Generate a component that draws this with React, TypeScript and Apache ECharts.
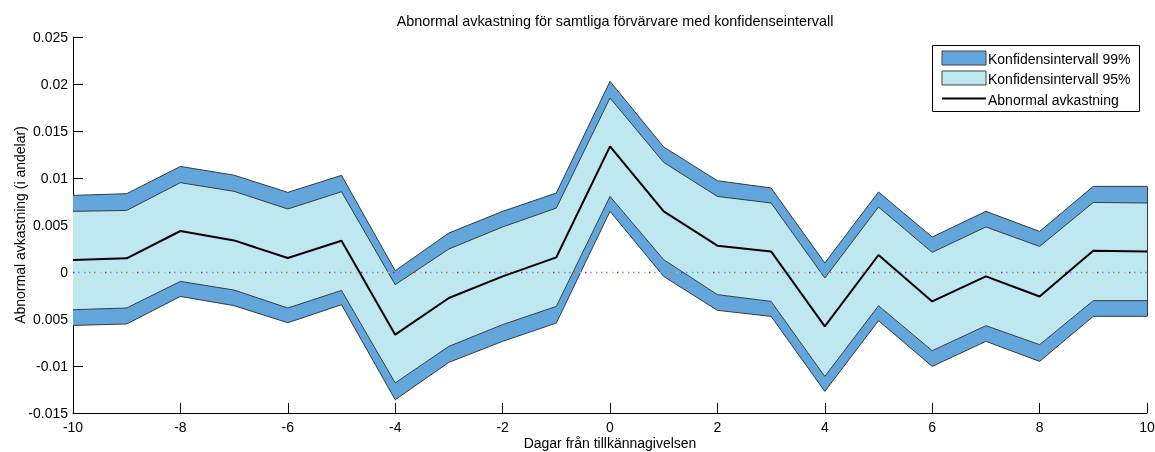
import React, { useEffect, useRef } from "react";
import * as echarts from "echarts";

const days = [-10, -9, -8, -7, -6, -5, -4, -3, -2, -1, 0, 1, 2, 3, 4, 5, 6, 7, 8, 9, 10];
const meanAR = [0.00128, 0.00145, 0.00436, 0.00336, 0.00149, 0.00333, -0.00667, -0.00277, -0.00047, 0.00156, 0.01336, 0.00645, 0.0028, 0.00219, -0.00579, 0.00181, -0.00313, -0.00047, -0.0026, 0.00227, 0.00219];
const upper95 = [0.00645, 0.00655, 0.0095, 0.00858, 0.0067, 0.00854, -0.00135, 0.00245, 0.00479, 0.0068, 0.01851, 0.01166, 0.00804, 0.00734, -0.00064, 0.00691, 0.00209, 0.00479, 0.00272, 0.0074, 0.00734];
const upper99 = [0.00815, 0.00833, 0.01123, 0.0103, 0.00847, 0.01028, 0.00014, 0.00415, 0.00645, 0.0084, 0.02028, 0.0133, 0.00971, 0.00894, 0.00096, 0.00851, 0.00372, 0.00645, 0.00432, 0.00911, 0.00911];
const lower95 = [-0.00401, -0.00383, -0.001, -0.00192, -0.00383, -0.00196, -0.0118, -0.00791, -0.0056, -0.00366, 0.00804, 0.00131, -0.00241, -0.00313, -0.01111, -0.00359, -0.00837, -0.00571, -0.00773, -0.00305, -0.00305];
const lower99 = [-0.00568, -0.00553, -0.0026, -0.00358, -0.0054, -0.00348, -0.01359, -0.00961, -0.00738, -0.00543, 0.00645, -0.00047, -0.00408, -0.00472, -0.0127, -0.00518, -0.01004, -0.00738, -0.00951, -0.00472, -0.00472];
const yTickLabels = ["-0.015", "-0.01", "0.005", "0", "0.005", "0.01", "0.015", "0.02", "0.025"];

const titleText = "Abnormal avkastning för samtliga förvärvare med konfidenseintervall";
const xName = "Dagar från tillkännagivelsen";
const yName = "Abnormal avkastning (i andelar)";
const legendNames = ["Konfidensintervall 99%", "Konfidensintervall 95%", "Abnormal avkastning"];

const DARK = "#62A6DB";
const LIGHT = "#BFE7F0";
const EDGE = "#333b44";
const FONT = "'Liberation Sans', Arial, sans-serif";
const FS = 14;
const dotColors = ["#3344ff", "#cc55ee", "#22cccc", "#55aa55", "#ee5555", "#cccc33"];

export default function App() {
  const ref = useRef<HTMLDivElement>(null);
  useEffect(() => {
    if (!ref.current) return;
    const chart = echarts.init(ref.current, undefined, { renderer: "svg" });
    const d1 = days.map((_, i) => lower95[i] - lower99[i]);
    const d2 = days.map((_, i) => upper95[i] - lower95[i]);
    const d3 = days.map((_, i) => upper99[i] - upper95[i]);
    const edgeLine = { color: EDGE, width: 1 };
    const last = days.length - 1;
    const zeroLines = dotColors.map((c, k) => ({
      yAxis: 0,
      lineStyle: { color: c, width: 1.3, type: [1.5, 30.5], dashOffset: -k * 5.33 },
    }));
    const stackCommon = { type: "line", stack: "ci", stackStrategy: "all", symbol: "none", lineStyle: edgeLine };
    chart.setOption({
      animation: false,
      grid: { left: 73, right: 8, top: 37, bottom: 39, containLabel: false, outerBoundsMode: "none" },
      xAxis: {
        type: "category",
        data: days.map(String),
        boundaryGap: false,
        name: xName,
        nameLocation: "middle",
        nameGap: 23,
        nameMoveOverlap: false,
        nameTextStyle: { color: "#000", fontSize: FS, fontFamily: FONT },
        axisLine: { show: true, onZero: false, lineStyle: { color: "#000", width: 1 } },
        axisTick: { show: true, inside: true, length: 10, interval: 1, lineStyle: { color: "#000" } },
        axisLabel: { color: "#000", fontSize: FS, fontFamily: FONT, margin: 7, interval: 1 },
        splitLine: { show: false },
      },
      yAxis: {
        type: "value",
        min: -0.015,
        max: 0.025,
        interval: 0.005,
        name: yName,
        nameLocation: "middle",
        nameRotate: 90,
        nameGap: 46,
        nameMoveOverlap: false,
        nameTextStyle: { color: "#000", fontSize: FS, fontFamily: FONT },
        axisLine: { show: true, onZero: false, lineStyle: { color: "#000", width: 1 } },
        axisTick: { show: true, inside: true, length: 10, lineStyle: { color: "#000" } },
        axisLabel: {
          color: "#000",
          fontSize: FS,
          fontFamily: FONT,
          margin: 5,
          formatter: (v: number) => yTickLabels[Math.round((v + 0.015) / 0.005)],
        },
        splitLine: { show: false },
      },
      series: [
        { ...stackCommon, name: "base", data: lower99 },
        { ...stackCommon, name: legendNames[0], data: d1, areaStyle: { color: DARK, opacity: 1 } },
        { ...stackCommon, name: legendNames[1], data: d2, areaStyle: { color: LIGHT, opacity: 1 } },
        { ...stackCommon, name: legendNames[0] + " ", data: d3, areaStyle: { color: DARK, opacity: 1 } },
        {
          type: "line",
          name: legendNames[2],
          data: meanAR,
          symbol: "none",
          lineStyle: { color: "#000", width: 2 },
          z: 5,
          markLine: {
            silent: true,
            symbol: "none",
            label: { show: false },
            data: [
              ...zeroLines,
              [
                { coord: [last, lower99[last]], lineStyle: { color: EDGE, width: 1, type: "solid" } },
                { coord: [last, upper99[last]] },
              ],
            ],
          },
        },
      ],
      graphic: [
        {
          type: "text",
          x: 615,
          y: 20.5,
          style: {
            text: titleText,
            fill: "#000",
            font: `14.4px ${FONT}`,
            align: "center",
            verticalAlign: "middle",
          },
        },
        {
          type: "rect",
          shape: { x: 932.5, y: 45.5, width: 207, height: 66 },
          style: { fill: "#fff", stroke: "#000", lineWidth: 1 },
          z: 10,
        },
        {
          type: "rect",
          shape: { x: 942, y: 51, width: 44, height: 14 },
          style: { fill: DARK, stroke: "#444", lineWidth: 1 },
          z: 11,
        },
        {
          type: "rect",
          shape: { x: 942, y: 71, width: 44, height: 14 },
          style: { fill: LIGHT, stroke: "#444", lineWidth: 1 },
          z: 11,
        },
        {
          type: "line",
          shape: { x1: 942, y1: 98.5, x2: 986, y2: 98.5 },
          style: { stroke: "#000", lineWidth: 2 },
          z: 11,
        },
        ...legendNames.map((n, i) => ({
          type: "text",
          x: 988,
          y: 58.5 + i * 20.5,
          z: 11,
          style: { text: n, fill: "#000", font: `${FS}px ${FONT}`, verticalAlign: "middle" },
        })),
      ],
    });
    return () => chart.dispose();
  }, []);
  return <div ref={ref} style={{ position: "fixed", left: 0, top: 0, width: 1155, height: 452 }} />;
}
